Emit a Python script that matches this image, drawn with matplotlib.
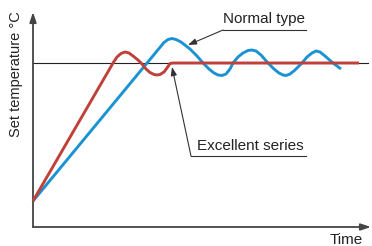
import matplotlib
matplotlib.use("Agg")
import matplotlib.pyplot as plt

plt.rcParams['font.family'] = ['Liberation Sans', 'DejaVu Sans']

# Data (time, temperature in arbitrary units; set point = 164)
set_point = 164
excellent_t = [0, 76, 80, 84, 88, 92, 96, 100, 105, 109, 113, 117, 121, 124,
               127, 131, 134, 137, 140, 326]
excellent_v = [26, 157, 164, 170, 173.5, 175, 174, 171, 167, 163, 158, 154.5, 152.5, 152,
               152.5, 155, 159, 163.5, 164, 164]
normal_t = [0, 131, 135, 139, 143, 148, 157, 164, 170, 176, 181, 185,
            189, 193, 197, 200, 205, 210, 215, 219, 223, 228, 235, 241, 246, 250,
            253, 257, 262, 269, 274, 279, 283, 287, 292, 300, 304, 308]
normal_v = [26, 184.5, 187.5, 188.5, 187.5, 185, 178, 171, 164, 158, 154, 152,
            151.5, 153, 158, 164, 170, 174, 176.5, 177, 176, 172, 164, 158, 154, 152,
            151.5, 153, 157, 164, 170, 174, 176, 175, 171, 164, 161, 158]
labels = ["Normal type", "Excellent series"]

W, H = 372, 246
fig = plt.figure(figsize=(W / 100, H / 100), dpi=100)
ax = fig.add_axes([33 / W, 19 / H, (W - 33) / W, (227 - 12) / H])
ax.set_xlim(0, W - 33)
ax.set_ylim(0, 227 - 12)
ax.axis('off')

axis_col = '#444444'
# axes arrows
ax.annotate('', xy=(0, 215), xytext=(0, 0),
            arrowprops=dict(arrowstyle='-|>,head_length=0.6,head_width=0.2', color=axis_col, lw=1.3,
                            shrinkA=0, shrinkB=0), annotation_clip=False)
ax.annotate('', xy=(338, 0), xytext=(0, 0),
            arrowprops=dict(arrowstyle='-|>,head_length=0.6,head_width=0.2', color=axis_col, lw=1.3,
                            shrinkA=0, shrinkB=0), annotation_clip=False)

# set point line
ax.plot([0, 335], [set_point, set_point], color='#222222', lw=0.8, clip_on=False, zorder=1)

blue = '#1b93d3'
red = '#c0413a'
ax.plot(normal_t, normal_v, color=blue, lw=2.1, solid_joinstyle='round', solid_capstyle='butt',
        clip_on=False, zorder=2)
ax.plot(excellent_t, excellent_v, color=red, lw=2.1, solid_joinstyle='round', solid_capstyle='butt',
        clip_on=False, zorder=3)

# labels with leader lines
lc = '#333333'
ax.plot([190, 273], [197, 197], color=lc, lw=0.8, clip_on=False)
ax.annotate('', xy=(155, 182), xytext=(190, 197),
            arrowprops=dict(arrowstyle='-|>,head_length=0.5,head_width=0.18', color=lc, lw=0.8,
                            shrinkA=0, shrinkB=0), annotation_clip=False)
ax.text(231, 208, labels[0], ha='center', va='center', fontsize=11, color='#222222')

ax.plot([158, 273], [71, 71], color=lc, lw=0.8, clip_on=False)
ax.annotate('', xy=(139, 160), xytext=(158, 71),
            arrowprops=dict(arrowstyle='-|>,head_length=0.5,head_width=0.18', color=lc, lw=0.8,
                            shrinkA=0, shrinkB=0), annotation_clip=False)
ax.text(217, 81, labels[1], ha='center', va='center', fontsize=11, color='#222222')

ax.text(-17, 216, 'Set temperature °C', rotation=90, ha='center', va='top', fontsize=10.5,
        color='#222222')
ax.text(313, -13, 'Time', ha='center', va='center', fontsize=11, color='#222222')

fig.savefig('out.png', dpi=100)
